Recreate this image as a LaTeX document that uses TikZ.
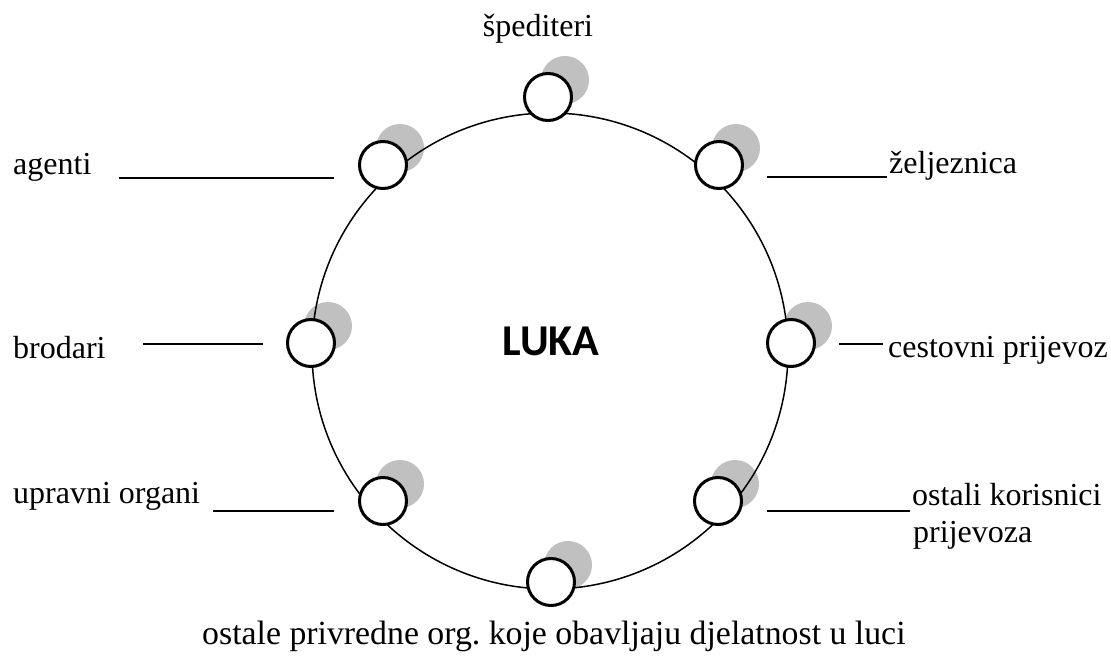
\documentclass[tikz,border=0pt]{standalone}
\usepackage{fontspec}
\setmainfont{Liberation Serif}
\newfontfamily\lukafont{Carlito}
\definecolor{shadowgray}{RGB}{192,192,192}
\frenchspacing
\begin{document}
\begin{tikzpicture}[x=1pt,y=-1pt,
  lbl/.style={font=\fontsize{32}{37}\selectfont, inner sep=0pt, anchor=base west},
  shadowdot/.style={circle, fill=shadowgray, minimum size=48pt, inner sep=0pt},
  port/.style={circle, draw=black, line width=3pt, fill=white, minimum size=47pt, inner sep=0pt},
  ring/.style={line width=1.5pt},
  tick/.style={line width=1.8pt}]
\useasboundingbox (0,0) rectangle (1111,658);

% shadows
\foreach \n/\x/\y in {s1/548/97, s2/719/165, s3/791/343, s4/718/501, s5/551/582, s6/383/501, s7/311/343, s8/383/165}
  \node[shadowdot] (\n) at (\x+17,\y-17) {};

% ring
\coordinate (c) at (550,351);
\draw[ring] (c) circle (238pt);

% ports
\node[port] (p1) at (548,97) {};
\node[port] (p2) at (719,165) {};
\node[port] (p3) at (791,343) {};
\node[port] (p4) at (718,501) {};
\node[port] (p5) at (551,582) {};
\node[port] (p6) at (383,501) {};
\node[port] (p7) at (311,343) {};
\node[port] (p8) at (383,165) {};

% centre
\node[font=\lukafont\bfseries\fontsize{44}{48}\selectfont, inner sep=0pt, anchor=base] (luka) at (551,355) {LUKA};

% labels
\node[lbl, anchor=base] (t1) at (538,37) {špediteri};
\node[lbl] (t8) at (13,175) {agenti};
\node[lbl] (t2) at (889,173) {željeznica};
\node[lbl] (t7) at (13,358) {brodari};
\node[lbl] (t3) at (888,357) {cestovni prijevoz};
\node[lbl] (t6) at (13,503) {upravni organi};
\node[lbl] (t4) at (912,505) {ostali korisnici};
\node[lbl] (t4b) at (913,542) {prijevoza};
\node[lbl, font=\fontsize{33.8}{39}\selectfont] (t5) at (202,644) {ostale privredne org. koje obavljaju djelatnost u luci};

% label lines
\coordinate (a8) at (119,178); \coordinate (b8) at (334,178);
\coordinate (a2) at (767,177); \coordinate (b2) at (887,177);
\coordinate (a7) at (143,344); \coordinate (b7) at (263,344);
\coordinate (a3) at (839,344); \coordinate (b3) at (883,344);
\coordinate (a6) at (213,511); \coordinate (b6) at (334,511);
\coordinate (a4) at (767,511); \coordinate (b4) at (910,511);
\draw[tick] (a8) -- (b8);
\draw[tick] (a2) -- (b2);
\draw[tick] (a7) -- (b7);
\draw[tick] (a3) -- (b3);
\draw[tick] (a6) -- (b6);
\draw[tick] (a4) -- (b4);
\end{tikzpicture}
\end{document}
